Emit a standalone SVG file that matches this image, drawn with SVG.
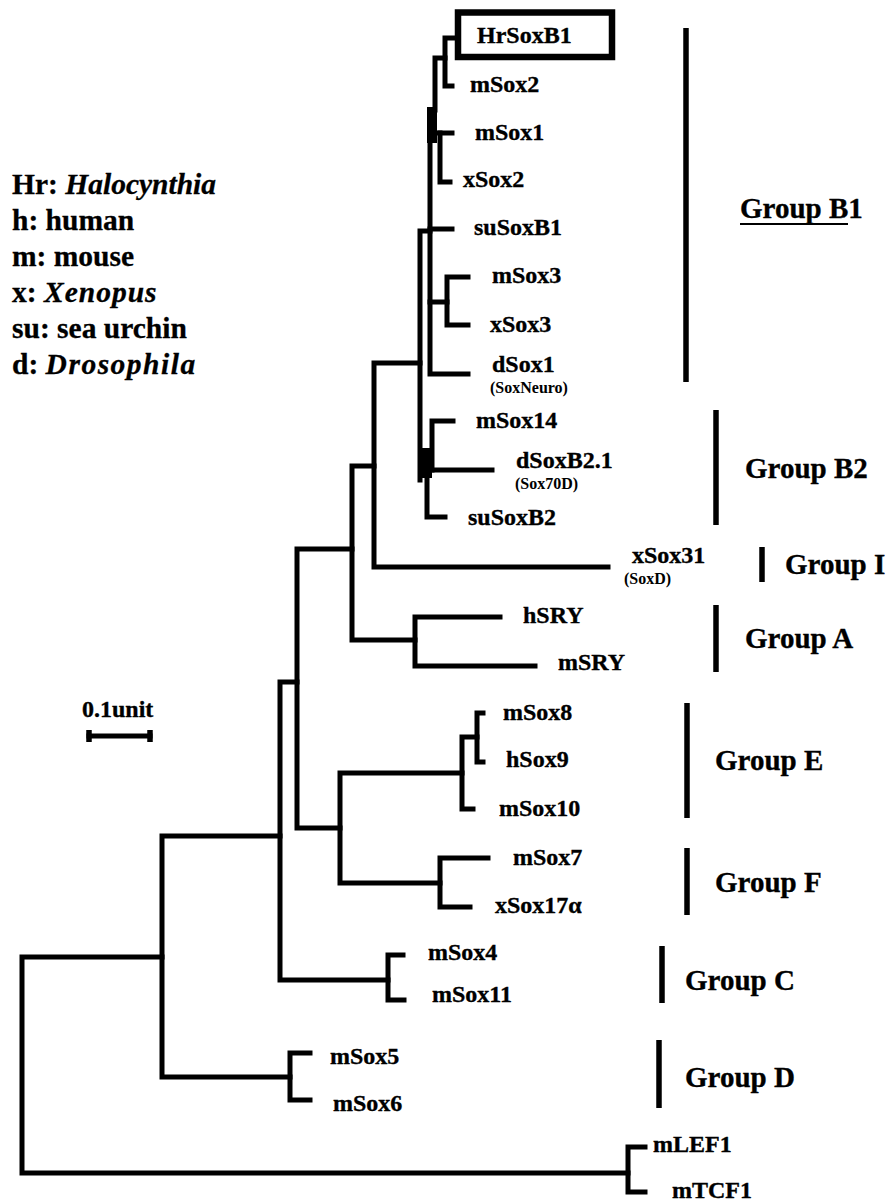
<svg xmlns="http://www.w3.org/2000/svg" width="892" height="1203" viewBox="0 0 892 1203">
<defs>
<style>
.t{fill:none;stroke:#000;stroke-width:5;stroke-linecap:square;stroke-linejoin:miter}
.bar{stroke:#000;stroke-width:5.5;stroke-linecap:butt}
.lf{font-family:"Liberation Serif","Times New Roman",serif;font-weight:bold;font-size:24px;fill:#000;stroke:#000;stroke-width:0.35}
.sm{font-family:"Liberation Serif","Times New Roman",serif;font-weight:bold;font-size:16px;fill:#000}
.gp{font-family:"Liberation Serif","Times New Roman",serif;font-weight:bold;font-size:29px;fill:#000;stroke:#000;stroke-width:0.35}
.lg{font-family:"Liberation Serif","Times New Roman",serif;font-weight:bold;font-size:29.5px;fill:#000;stroke:#000;stroke-width:0.3}
</style>
</defs>
<rect width="892" height="1203" fill="#fff"/>
<g id="connectors">
<path class="t" d="M628 1173 H22 V957 H162"/>
<path class="t" d="M280 836 H162 V1077 H290"/>
<path class="t" d="M310 1053 H290 V1100 H310"/>
<path class="t" d="M645 1147 H628 V1192 H645"/>
<path class="t" d="M297 682 H280 V980 H388"/>
<path class="t" d="M403 955 H388 V1000 H404"/>
<path class="t" d="M352 549 H297 V828 H340"/>
<path class="t" d="M374 466 H352 V640 H415"/>
<path class="t" d="M500 617 H415 V666 H535"/>
<path class="t" d="M420 363 H374 V567 H608"/>
<path class="t" d="M462 773 H340 V883 H440"/>
<path class="t" d="M477 737 H462 V809 H473"/>
<path class="t" d="M483 713 H477 V762 H483"/>
<path class="t" d="M488 858 H440 V907 H470"/>
<path class="t" d="M430 231 H420 V480"/>
<path class="t" d="M468 374 H430 V143"/>
<rect x="427" y="107" width="10" height="36" fill="#000"/>
<path class="t" d="M435 110 V58 H445"/>
<path class="t" d="M456 38 H445 V86 H452"/>
<path class="t" d="M432 133 H452"/>
<path class="t" d="M440 133 V182 H450"/>
<path class="t" d="M430 229 H452"/>
<path class="t" d="M430 302 H447"/>
<path class="t" d="M468 277 H447 V325 H468"/>
<rect x="420" y="448" width="12" height="30" fill="#000"/>
<path class="t" d="M453 421 H432 V470"/>
<path class="t" d="M425 470 H492"/>
<path class="t" d="M427 470 V517 H445"/>
</g>
<g id="legend">
<text class="lg" x="12" y="194">Hr: <tspan font-style="italic">Halocynthia</tspan></text>
<text class="lg" x="12" y="230">h: human</text>
<text class="lg" x="12" y="266">m: mouse</text>
<text class="lg" x="12" y="302">x: <tspan font-style="italic" letter-spacing="1">Xenopus</tspan></text>
<text class="lg" x="12" y="338">su: sea urchin</text>
<text class="lg" x="12" y="374">d: <tspan font-style="italic" letter-spacing="1.5">Drosophila</tspan></text>
</g>
<g id="scale">
<text class="lf" x="82" y="717">0.1unit</text>
<path class="t" d="M89 736 H150" stroke-linecap="butt"/>
<path class="bar" d="M89 730 V742 M150 730 V742"/>
</g>
<g id="node-HrSoxB1">
<rect x="458" y="12.5" width="154" height="44.5" fill="none" stroke="#000" stroke-width="6.5"/>
<text class="lf" x="477" y="43">HrSoxB1</text>
</g>
<g id="node-mSox2"><text class="lf" x="470" y="92">mSox2</text></g>
<g id="node-mSox1"><text class="lf" x="475" y="140">mSox1</text></g>
<g id="node-xSox2"><text class="lf" x="463" y="187">xSox2</text></g>
<g id="node-suSoxB1"><text class="lf" x="474" y="235">suSoxB1</text></g>
<g id="node-mSox3"><text class="lf" x="492" y="283">mSox3</text></g>
<g id="node-xSox3"><text class="lf" x="490" y="332">xSox3</text></g>
<g id="node-dSox1"><text class="lf" x="492" y="372">dSox1</text><text class="sm" x="490" y="393">(SoxNeuro)</text></g>
<g id="node-mSox14"><text class="lf" x="476" y="428">mSox14</text></g>
<g id="node-dSoxB2.1"><text class="lf" x="516" y="468">dSoxB2.1</text><text class="sm" x="515" y="489">(Sox70D)</text></g>
<g id="node-suSoxB2"><text class="lf" x="468" y="525">suSoxB2</text></g>
<g id="node-xSox31"><text class="lf" x="632" y="563">xSox31</text><text class="sm" x="624" y="584">(SoxD)</text></g>
<g id="node-hSRY"><text class="lf" x="523" y="623">hSRY</text></g>
<g id="node-mSRY"><text class="lf" x="558" y="670">mSRY</text></g>
<g id="node-mSox8"><text class="lf" x="503" y="720">mSox8</text></g>
<g id="node-hSox9"><text class="lf" x="506" y="767">hSox9</text></g>
<g id="node-mSox10"><text class="lf" x="499" y="816">mSox10</text></g>
<g id="node-mSox7"><text class="lf" x="513" y="865">mSox7</text></g>
<g id="node-xSox17a"><text class="lf" x="495" y="913">xSox17α</text></g>
<g id="node-mSox4"><text class="lf" x="428" y="960">mSox4</text></g>
<g id="node-mSox11"><text class="lf" x="432" y="1002">mSox11</text></g>
<g id="node-mSox5"><text class="lf" x="330" y="1064">mSox5</text></g>
<g id="node-mSox6"><text class="lf" x="333" y="1111">mSox6</text></g>
<g id="node-mLEF1"><text class="lf" x="653" y="1152">mLEF1</text></g>
<g id="node-mTCF1"><text class="lf" x="672" y="1198">mTCF1</text></g>
<g id="groups">
<line class="bar" x1="686" y1="28" x2="686" y2="382"/>
<text class="gp" x="740" y="218">Group B1</text>
<line x1="740" y1="224" x2="848" y2="224" stroke="#000" stroke-width="2"/>
<line class="bar" x1="716" y1="410" x2="716" y2="525"/>
<text class="gp" x="745" y="478">Group B2</text>
<line class="bar" x1="762" y1="547" x2="762" y2="582"/>
<text class="gp" x="785" y="574">Group I</text>
<line class="bar" x1="716" y1="605" x2="716" y2="672"/>
<text class="gp" x="745" y="648">Group A</text>
<line class="bar" x1="687" y1="703" x2="687" y2="818"/>
<text class="gp" x="715" y="770">Group E</text>
<line class="bar" x1="687" y1="848" x2="687" y2="915"/>
<text class="gp" x="715" y="892">Group F</text>
<line class="bar" x1="662" y1="946" x2="662" y2="1003"/>
<text class="gp" x="685" y="990">Group C</text>
<line class="bar" x1="659" y1="1040" x2="659" y2="1108"/>
<text class="gp" x="685" y="1087">Group D</text>
</g>
</svg>
